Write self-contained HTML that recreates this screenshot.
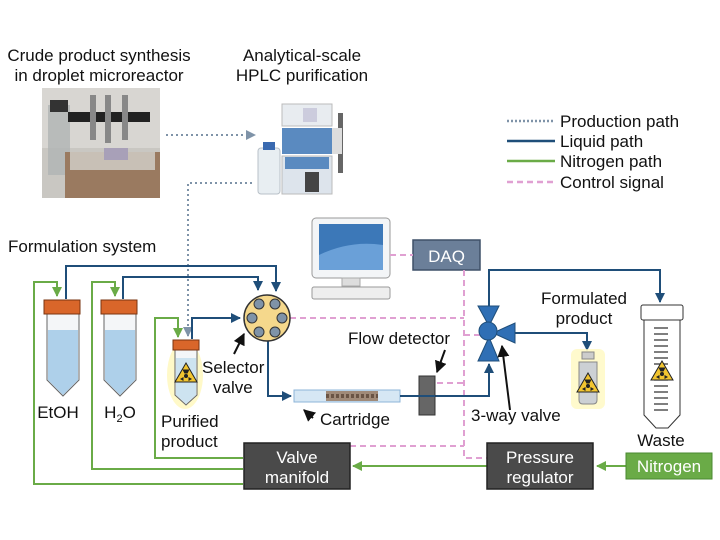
<!DOCTYPE html>
<html><head><meta charset="utf-8"><style>
html,body{margin:0;padding:0;background:#fff}
svg{display:block}
text{font-family:"Liberation Sans",sans-serif;fill:#111}
</style></head><body>
<svg width="720" height="540" viewBox="0 0 720 540" xmlns="http://www.w3.org/2000/svg">
<defs>
<marker id="ab" viewBox="0 0 10 10" refX="9" refY="5" markerWidth="5" markerHeight="5" orient="auto"><path d="M0,0L10,5L0,10z" fill="#1f4e79"/></marker>
<marker id="ag" viewBox="0 0 10 10" refX="9" refY="5" markerWidth="5" markerHeight="5" orient="auto"><path d="M0,0L10,5L0,10z" fill="#6aab47"/></marker>
<marker id="ad" viewBox="0 0 10 10" refX="9" refY="5" markerWidth="5" markerHeight="5" orient="auto"><path d="M0,0L10,5L0,10z" fill="#7f93a8"/></marker>
<marker id="ak" viewBox="0 0 10 10" refX="9" refY="5" markerWidth="6" markerHeight="6" orient="auto"><path d="M0,0L10,5L0,10z" fill="#111"/></marker>
<g id="rad"><path d="M0,-10L11,9L-11,9z" fill="#f2c530" stroke="#222" stroke-width="1"/><circle cx="0" cy="3" r="2" fill="#222"/><path d="M-1.5,0.5L-3.5,-3.5L3.5,-3.5L1.5,0.5z M-2.5,4L-6,6L-2.5,8z M2.5,4L6,6L2.5,8z" fill="#222"/></g>
</defs>

<text x="99" y="61" font-size="17" text-anchor="middle">Crude product synthesis</text>
<text x="99" y="81" font-size="17" text-anchor="middle">in droplet microreactor</text>
<text x="302" y="61" font-size="17" text-anchor="middle">Analytical-scale</text>
<text x="302" y="81" font-size="17" text-anchor="middle">HPLC purification</text>

<rect x="42" y="88" width="118" height="110" fill="#c9c7c2"/>
<rect x="42" y="88" width="118" height="60" fill="#d8d6d2"/>
<rect x="48" y="105" width="22" height="70" fill="#b0b4b4" opacity="0.8"/>
<rect x="50" y="100" width="18" height="12" fill="#333"/>
<rect x="68" y="112" width="82" height="10" fill="#222"/>
<rect x="90" y="95" width="6" height="45" fill="#888"/><rect x="105" y="95" width="6" height="48" fill="#888"/><rect x="122" y="95" width="6" height="45" fill="#888"/>
<rect x="65" y="152" width="95" height="46" fill="#9a7a60"/>
<rect x="70" y="152" width="85" height="18" fill="#c8c0b6"/>
<rect x="104" y="148" width="24" height="12" fill="#a8a0b8"/>

<rect x="282" y="104" width="50" height="22" fill="#e8ecf0" stroke="#bbb"/>
<rect x="303" y="108" width="14" height="14" fill="#ccd"/>
<rect x="282" y="128" width="50" height="26" fill="#5a8ac0"/>
<rect x="282" y="156" width="50" height="38" fill="#dde4ec" stroke="#bbb"/>
<rect x="285" y="157" width="44" height="12" fill="#5a8ac0"/>
<rect x="305" y="172" width="14" height="20" fill="#444"/>
<rect x="258" y="148" width="22" height="46" rx="3" fill="#e8eef2" stroke="#b8c0c8"/>
<rect x="263" y="142" width="12" height="8" fill="#3a6ab0"/>
<rect x="338" y="113" width="5" height="60" fill="#666"/>
<rect x="332" y="128" width="10" height="26" fill="#ddd"/>

<g stroke="#7f93a8" stroke-width="2" stroke-dasharray="2,3" fill="none">
<path d="M166,135H255" marker-end="url(#ad)"/>
<path d="M252,183H188V336" marker-end="url(#ad)"/>
</g>

<g stroke-width="2.5" fill="none">
<path d="M507,121H555" stroke="#7f93a8" stroke-dasharray="2,2"/>
<path d="M507,141H555" stroke="#1f4e79"/>
<path d="M507,161H555" stroke="#6aab47"/>
<path d="M507,182H555" stroke="#e0a0d2" stroke-dasharray="6,4"/>
</g>
<text x="560" y="127" font-size="17">Production path</text>
<text x="560" y="147" font-size="17">Liquid path</text>
<text x="560" y="167" font-size="17">Nitrogen path</text>
<text x="560" y="188" font-size="17">Control signal</text>

<text x="8" y="252" font-size="17">Formulation system</text>

<rect x="312" y="218" width="78" height="60" rx="4" fill="#f3f5f7" stroke="#999"/>
<rect x="319" y="224" width="64" height="46" fill="#3c78b8"/>
<path d="M319,255 Q350,240 383,245 V270 H319z" fill="#6aa0d8"/>
<rect x="342" y="278" width="18" height="8" fill="#ddd" stroke="#aaa"/>
<rect x="312" y="287" width="78" height="12" rx="2" fill="#eee" stroke="#999"/>

<rect x="413" y="240" width="67" height="30" fill="#6b7f99" stroke="#3f5068" stroke-width="1.5"/>
<text x="446.5" y="262" font-size="17" text-anchor="middle" style="fill:#fff">DAQ</text>

<g stroke="#e0a0d2" stroke-width="2" stroke-dasharray="6,4" fill="none">
<path d="M390,255H413"/>
<path d="M464,270V458H487"/>
<path d="M290,318H464"/>
<path d="M437,383H464"/>
<path d="M464,335H480"/>
<path d="M350,446H464"/>
</g>

<g stroke="#1f4e79" stroke-width="2" fill="none">
<path d="M66,299V266H276V291" marker-end="url(#ab)"/>
<path d="M123,299V277H258V290" marker-end="url(#ab)"/>
<path d="M192,339V318H240" marker-end="url(#ab)"/>
<path d="M268,341V396H291" marker-end="url(#ab)"/>
<path d="M400,396H489V364" marker-end="url(#ab)"/>
<path d="M489,307V270H660V302" marker-end="url(#ab)"/>
<path d="M515,333H587V350" marker-end="url(#ab)"/>
</g>

<g stroke="#6aab47" stroke-width="2" fill="none">
<path d="M626,466H597" marker-end="url(#ag)"/>
<path d="M487,466H353" marker-end="url(#ag)"/>
<path d="M243,458H155V318H178V337" marker-end="url(#ag)"/>
<path d="M243,469H92V282H115V296" marker-end="url(#ag)"/>
<path d="M243,484H34V282H57V296" marker-end="url(#ag)"/>
</g>

<g>
<path d="M47,314H79V380L63,396L47,380z" fill="#f4f6f8" stroke="#666"/>
<path d="M48,330H78V380L63,395L48,380z" fill="#aed0ea"/>
<rect x="44" y="300" width="36" height="14" fill="#d9662a" stroke="#7a3410"/>
<path d="M104,314H136V380L120,396L104,380z" fill="#f4f6f8" stroke="#666"/>
<path d="M105,330H135V380L120,395L105,380z" fill="#aed0ea"/>
<rect x="101" y="300" width="36" height="14" fill="#d9662a" stroke="#7a3410"/>
<ellipse cx="185" cy="375" rx="18" ry="34" fill="#fff7b0" opacity="0.7"/>
<path d="M175,349H197V395L186,405L175,395z" fill="#f4f6f8" stroke="#666"/>
<path d="M176,358H196V395L186,404L176,395z" fill="#cde3f0"/>
<rect x="173" y="340" width="26" height="10" fill="#d9662a" stroke="#7a3410"/>
<use href="#rad" x="186" y="373"/>
</g>
<text x="58" y="418" font-size="17" text-anchor="middle">EtOH</text>
<text x="120" y="418" font-size="17" text-anchor="middle">H<tspan font-size="11" dy="4">2</tspan><tspan dy="-4">O</tspan></text>
<text x="161" y="427" font-size="17">Purified</text>
<text x="161" y="447" font-size="17">product</text>

<circle cx="267" cy="318" r="23" fill="#f5d88c" stroke="#333" stroke-width="1.5"/>
<g fill="#7f93a8" stroke="#333" stroke-width="1">
<circle cx="259" cy="304" r="5"/><circle cx="275" cy="304" r="5"/>
<circle cx="252" cy="318" r="5"/><circle cx="282" cy="318" r="5"/>
<circle cx="259" cy="332" r="5"/><circle cx="275" cy="332" r="5"/>
</g>
<path d="M234,354L244,334" stroke="#111" stroke-width="2" marker-end="url(#ak)"/>
<text x="202" y="373" font-size="17">Selector</text>
<text x="213" y="393" font-size="17">valve</text>

<rect x="294" y="390" width="106" height="12" fill="#d6e7f4" stroke="#8db4d8"/>
<rect x="326" y="391" width="52" height="10" fill="#a08a78"/>
<path d="M326,396H378" stroke="#6a5444" stroke-width="4" stroke-dasharray="3,2"/>
<path d="M313,418L304,410" stroke="#111" stroke-width="2" marker-end="url(#ak)"/>
<text x="320" y="425" font-size="17">Cartridge</text>

<rect x="419" y="376" width="16" height="39" fill="#666" stroke="#333"/>
<path d="M400,396H435" stroke="#1f4e79" stroke-width="2"/>
<path d="M445,350L437,372" stroke="#111" stroke-width="2" marker-end="url(#ak)"/>
<text x="348" y="344" font-size="17">Flow detector</text>

<g fill="#2f6fb5" stroke="#1f4e79" stroke-width="1">
<path d="M478,306H499L489,326z"/>
<path d="M478,361H499L489,337z"/>
<path d="M515,323V343L493,333z"/>
<circle cx="488" cy="331" r="9"/>
</g>
<path d="M510,410L502,346" stroke="#111" stroke-width="2" marker-end="url(#ak)"/>
<text x="471" y="421" font-size="17">3-way valve</text>

<text x="584" y="304" font-size="17" text-anchor="middle">Formulated</text>
<text x="584" y="324" font-size="17" text-anchor="middle">product</text>
<rect x="571" y="349" width="34" height="60" rx="6" fill="#fff9c0" opacity="0.8"/>
<rect x="582" y="352" width="12" height="7" fill="#ccc" stroke="#888"/>
<path d="M579,362H597V400Q597,404 593,404H583Q579,404 579,400z" fill="#ccd0d4" stroke="#888"/>
<use href="#rad" x="588" y="383"/>

<rect x="641" y="305" width="42" height="15" rx="2" fill="#fff" stroke="#333"/>
<path d="M644,320H680V415L668,428H656L644,415z" fill="#fff" stroke="#333"/>
<g stroke="#333" stroke-width="1.3">
<path d="M654,328H668M654,334H668M654,340H668M654,346H668M654,352H668M654,358H668M654,364H668M654,380H668M654,386H668M654,392H668M654,398H668M654,404H668M654,410H668"/>
</g>
<use href="#rad" x="662" y="371"/>
<text x="661" y="446" font-size="17" text-anchor="middle">Waste</text>

<rect x="244" y="443" width="106" height="46" fill="#4a4a4a" stroke="#222" stroke-width="1.5"/>
<text x="297" y="463" font-size="17" text-anchor="middle" style="fill:#fff">Valve</text>
<text x="297" y="483" font-size="17" text-anchor="middle" style="fill:#fff">manifold</text>
<rect x="487" y="443" width="106" height="46" fill="#4a4a4a" stroke="#222" stroke-width="1.5"/>
<text x="540" y="463" font-size="17" text-anchor="middle" style="fill:#fff">Pressure</text>
<text x="540" y="483" font-size="17" text-anchor="middle" style="fill:#fff">regulator</text>
<rect x="626" y="453" width="86" height="26" fill="#6aab47" stroke="#4a8a30"/>
<text x="669" y="472" font-size="17" text-anchor="middle" style="fill:#fff">Nitrogen</text>
</svg>
</body></html>
